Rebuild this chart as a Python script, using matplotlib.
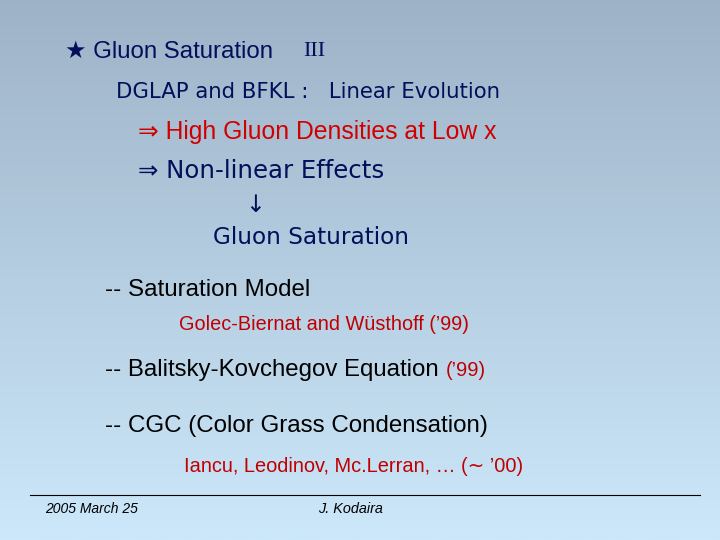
import numpy as np
import matplotlib
matplotlib.use("Agg")
import matplotlib.pyplot as plt

lines = [
    ("★ Gluon Saturation", 65, 52, 17.3, "#00105a", "Liberation Sans"),
    ("III", 303, 52, 16, "#00105a", "Liberation Serif"),
    ("DGLAP and BFKL :   Linear Evolution", 116, 92, 15.3, "#00105a", "DejaVu Sans"),
    ("⇒ High Gluon Densities at Low x", 138, 132, 17.8, "#d00000", "Liberation Sans"),
    ("⇒ Non-linear Effects", 138, 171, 17.6, "#00105a", "DejaVu Sans"),
    ("↓", 245, 205, 17, "#00105a", "DejaVu Sans"),
    ("Gluon Saturation", 213, 238, 16.7, "#00105a", "DejaVu Sans"),
    ("-- Saturation Model", 105, 290, 17.4, "#000000", "Liberation Sans"),
    ("Golec-Biernat and Wüsthoff (’99)", 179, 325, 14.3, "#c00000", "Liberation Sans"),
    ("-- Balitsky-Kovchegov Equation", 105, 370, 17.3, "#000000", "Liberation Sans"),
    ("(’99)", 446, 371, 14.5, "#c00000", "Liberation Sans"),
    ("-- CGC (Color Grass Condensation)", 105, 426, 17.4, "#000000", "Liberation Sans"),
    ("Iancu, Leodinov, Mc.Lerran, … (∼ ’00)", 184, 467, 14.4, "#c00000", "Liberation Sans"),
    ("2005 March 25", 45, 509, 10, "#000000", "Liberation Sans"),
    ("J. Kodaira", 318, 509, 10.4, "#000000", "Liberation Sans"),
]

fig = plt.figure(figsize=(7.2, 5.4), dpi=100)
ax = fig.add_axes([0, 0, 1, 1])
ax.set_xlim(0, 720); ax.set_ylim(540, 0); ax.axis("off")
top = np.array([0.62, 0.70, 0.78]); bot = np.array([0.80, 0.91, 0.98])
t = np.linspace(0, 1, 256)[:, None, None]
grad = top * (1 - t) + bot * t
grad = np.repeat(grad, 2, axis=1)
ax.imshow(grad, extent=[0, 720, 540, 0], aspect="auto", zorder=0)
for s, x, y, fs, c, fam in lines:
    style = "italic" if fs < 11 else "normal"
    ax.text(x, y, s, fontsize=fs, color=c, va="center", ha="left",
            family=[fam, "DejaVu Sans"], style=style)
ax.plot([30, 700], [495, 495], color="black", lw=0.8)
fig.savefig("out.png", dpi=100)
